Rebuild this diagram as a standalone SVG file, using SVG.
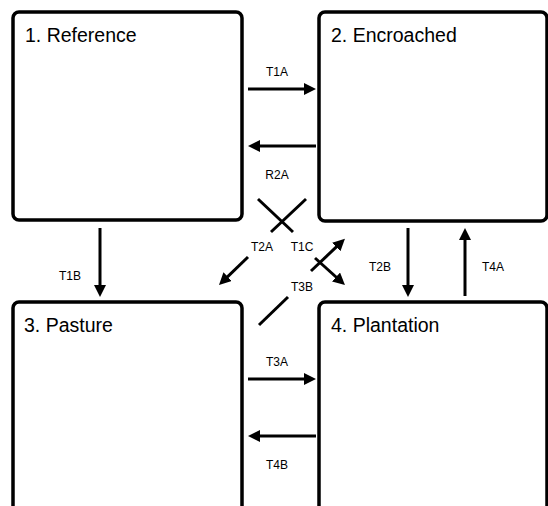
<svg xmlns="http://www.w3.org/2000/svg" width="548" height="506" viewBox="0 0 548 506">
<style>
.box{fill:#fff;stroke:#000;stroke-width:3.5}
.title{font-family:"Liberation Sans",Arial,sans-serif;font-size:19.5px;fill:#000}
.lbl{font-family:"Liberation Sans",Arial,sans-serif;font-size:12px;fill:#000;text-anchor:middle}
.c{stroke:#000;stroke-width:3;fill:none}
.a{marker-end:url(#ah)}
</style>
<defs>
<marker id="ah" markerUnits="userSpaceOnUse" markerWidth="12" markerHeight="12" refX="6" refY="6" orient="auto">
<path d="M0,0 L12,6 L0,12 z" fill="#000"/>
</marker>
</defs>
<rect width="548" height="506" fill="#fff"/>
<g id="node1"><rect class="box" x="13" y="12" width="229" height="208" rx="6"/><text class="title" x="25" y="42">1. Reference</text></g>
<g id="node2"><rect class="box" x="319" y="12" width="228" height="209" rx="6"/><text class="title" x="331" y="42">2. Encroached</text></g>
<g id="node3"><rect class="box" x="13" y="302" width="229" height="230" rx="6"/><text class="title" x="24" y="332">3. Pasture</text></g>
<g id="node4"><rect class="box" x="319" y="302" width="228" height="230" rx="6"/><text class="title" x="331" y="332">4. Plantation</text></g>
<g id="connectors">
<line class="c a" x1="248" y1="89" x2="310" y2="89"/>
<line class="c a" x1="316" y1="146" x2="254" y2="146"/>
<line class="c a" x1="248" y1="379" x2="310" y2="379"/>
<line class="c a" x1="316" y1="436" x2="254" y2="436"/>
<line class="c a" x1="100" y1="228" x2="100" y2="291"/>
<line class="c a" x1="408" y1="228" x2="408" y2="291"/>
<line class="c a" x1="465" y1="296" x2="465" y2="234"/>
<line class="c" x1="258" y1="199" x2="293" y2="232"/>
<line class="c" x1="306" y1="199" x2="271" y2="232"/>
<line class="c a" x1="248" y1="257" x2="223.3" y2="280.8"/>
<line class="c a" x1="315" y1="258" x2="340.5" y2="281"/>
<line class="c a" x1="311" y1="271" x2="340.6" y2="242.9"/>
<line class="c" x1="288" y1="297" x2="259" y2="325"/>
<text class="lbl" x="277" y="76">T1A</text>
<text class="lbl" x="277" y="179">R2A</text>
<text class="lbl" x="277" y="366">T3A</text>
<text class="lbl" x="277" y="469">T4B</text>
<text class="lbl" x="70" y="280">T1B</text>
<text class="lbl" x="380" y="271">T2B</text>
<text class="lbl" x="493" y="271">T4A</text>
<text class="lbl" x="262" y="251">T2A</text>
<text class="lbl" x="302" y="251">T1C</text>
<text class="lbl" x="302" y="291">T3B</text>
</g>
</svg>
